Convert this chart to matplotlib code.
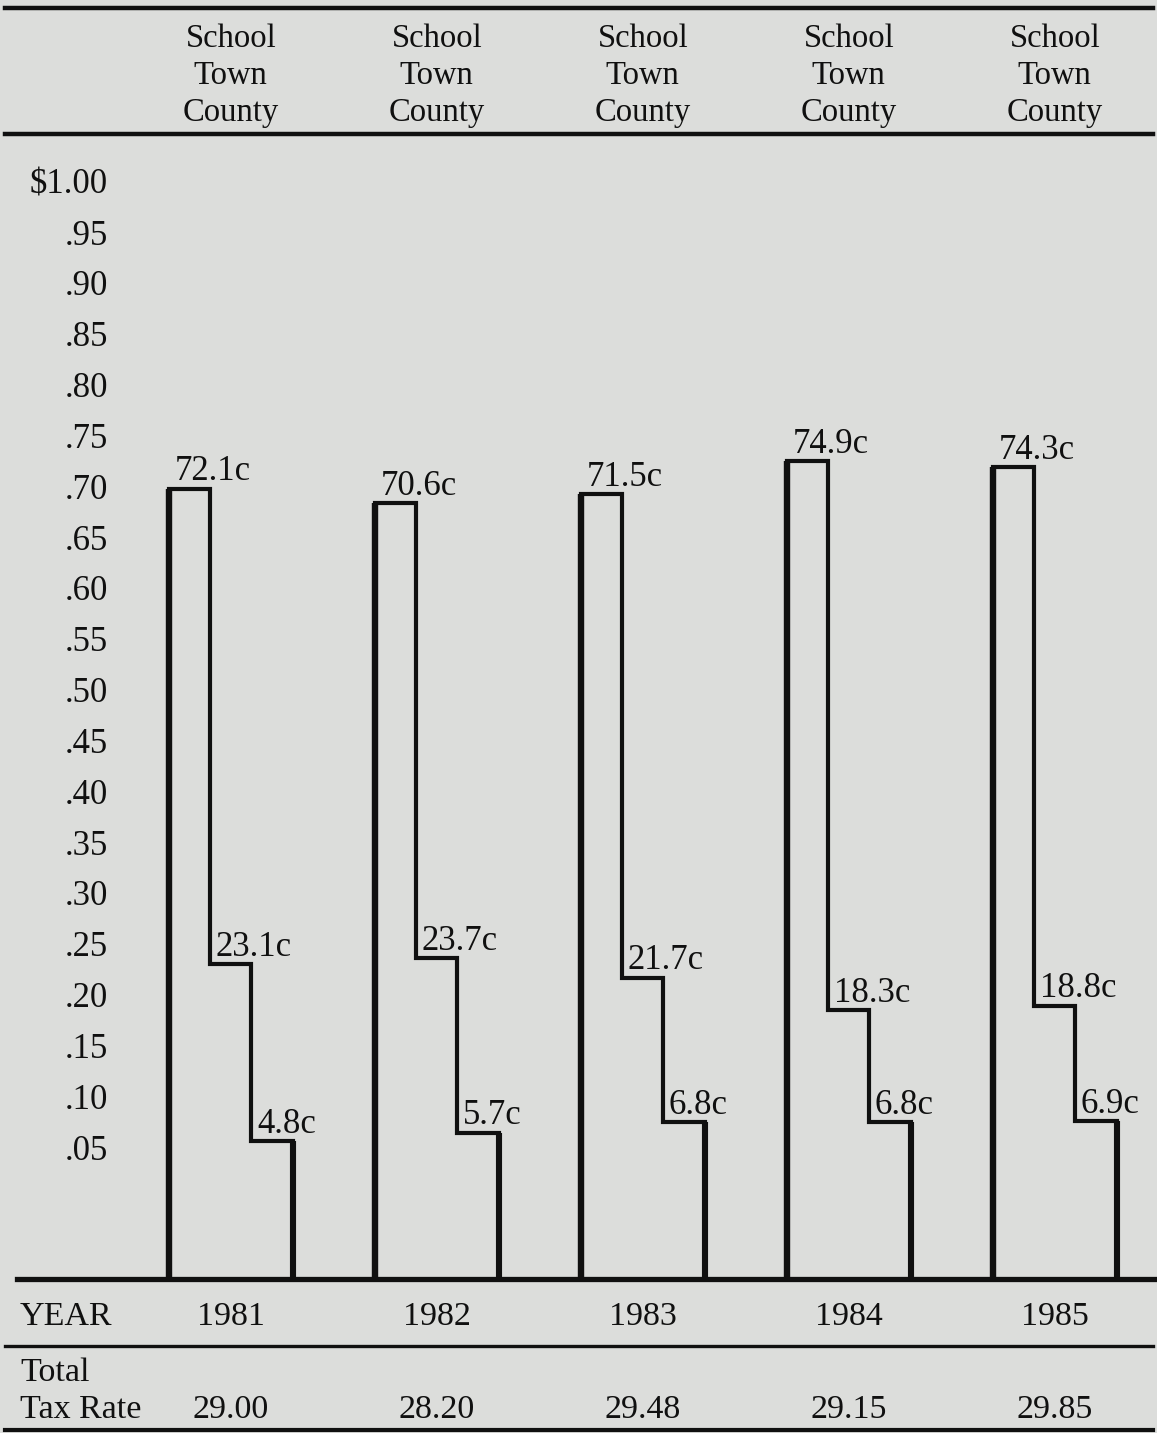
import matplotlib
matplotlib.use("Agg")
import matplotlib.pyplot as plt
from matplotlib import transforms

# --- data (cents per dollar of tax) ---
years = ["1981", "1982", "1983", "1984", "1985"]
school = [72.1, 70.6, 71.5, 74.9, 74.3]
town = [23.1, 23.7, 21.7, 18.3, 18.8]
county = [4.8, 5.7, 6.8, 6.8, 6.9]
total_rate = ["29.00", "28.20", "29.48", "29.15", "29.85"]
levels = ["School", "Town", "County"]
tick_vals = [1.00, .95, .90, .85, .80, .75, .70, .65, .60, .55,
             .50, .45, .40, .35, .30, .25, .20, .15, .10, .05]
tick_labels = ["\\$1.00", ".95", ".90", ".85", ".80", ".75", ".70", ".65",
               ".60", ".55", ".50", ".45", ".40", ".35", ".30", ".25",
               ".20", ".15", ".10", ".05"]

bg = "#dcdddb"
ink = "#101010"
font = "Liberation Serif"
plt.rcParams["font.family"] = [font, "DejaVu Serif"]

W, H = 1157, 1433
fig = plt.figure(figsize=(W / 100, H / 100), dpi=100, facecolor=bg)

# pixel frame for the table rules and row labels
frame = fig.add_axes([0, 0, 1, 1])
frame.set_xlim(0, W)
frame.set_ylim(H, 0)
frame.axis("off")

# axes for the stepped bars: 0 at y=1188px, 970 px per dollar; step = 41.2px
ax = fig.add_axes([0, 0, 1, 1])
ax.set_xlim(-169 / 41.2, (W - 169) / 41.2)
ax.set_ylim((1188 - H) / 970, 1188 / 970)
ax.axis("off")
ax.patch.set_alpha(0)

# axes only for the price labels on the left
lab = fig.add_axes([108 / W, 0, 0.0005, 1])
lab.set_ylim((1198 - H) / 1016.8, 1198 / 1016.8)
lab.set_yticks(tick_vals, tick_labels)
lab.set_xticks([])
lab.tick_params(axis="y", length=0, pad=0, labelsize=25, colors=ink)
for s in lab.spines.values():
    s.set_visible(False)
lab.patch.set_alpha(0)

base = (1188 - 1279) / 970
mix = transforms.blended_transform_factory(ax.transData, frame.transData)

for i, yr in enumerate(years):
    s = i * 5
    vals = [school[i] / 100, town[i] / 100, county[i] / 100]
    xs = [s, s, s + 1, s + 1, s + 2, s + 2, s + 3, s + 3]
    ys = [base, vals[0], vals[0], vals[1], vals[1], vals[2], vals[2], base]
    ax.plot(xs, ys, color=ink, lw=3.0, solid_joinstyle="miter")
    ax.plot([s, s], [base, vals[0]], color=ink, lw=4.6, solid_capstyle="butt")
    ax.plot([s + 3, s + 3], [base, vals[2]], color=ink, lw=4.4,
            solid_capstyle="butt")
    for j, v in enumerate([school[i], town[i], county[i]]):
        ax.annotate("%.1fc" % v, (s + j, v / 100), xytext=(4, 6),
                    textcoords="offset points", ha="left", va="baseline",
                    fontsize=25, color=ink)
    # header column
    for k, (lv, yb) in enumerate(zip(levels, [47, 84, 121])):
        ax.text(s + 1.5, yb, lv, transform=mix, ha="center", va="baseline",
                fontsize=23.5, color=ink)
    ax.text(s + 1.5, 1325, yr, transform=mix, ha="center", va="baseline",
            fontsize=24.5, color=ink)
    ax.text(s + 1.5, 1418, total_rate[i], transform=mix, ha="center",
            va="baseline", fontsize=24.5, color=ink)

# rules
frame.plot([5, 1153], [8, 8], color=ink, lw=3.2)
frame.plot([5, 1153], [134, 134], color=ink, lw=3.2)
frame.plot([17, 1154], [1279, 1279], color=ink, lw=3.8)
frame.plot([5, 1153], [1346, 1346], color=ink, lw=2.4)
frame.plot([5, 1153], [1430, 1430], color=ink, lw=3.0)

frame.text(20, 1325, "YEAR", ha="left", va="baseline", fontsize=24.5,
           color=ink)
frame.text(20, 1381, "Total", ha="left", va="baseline", fontsize=24.5,
           color=ink)
frame.text(20, 1418, "Tax Rate", ha="left", va="baseline", fontsize=24.5,
           color=ink)

fig.savefig("out.png", dpi=100, facecolor=bg)
